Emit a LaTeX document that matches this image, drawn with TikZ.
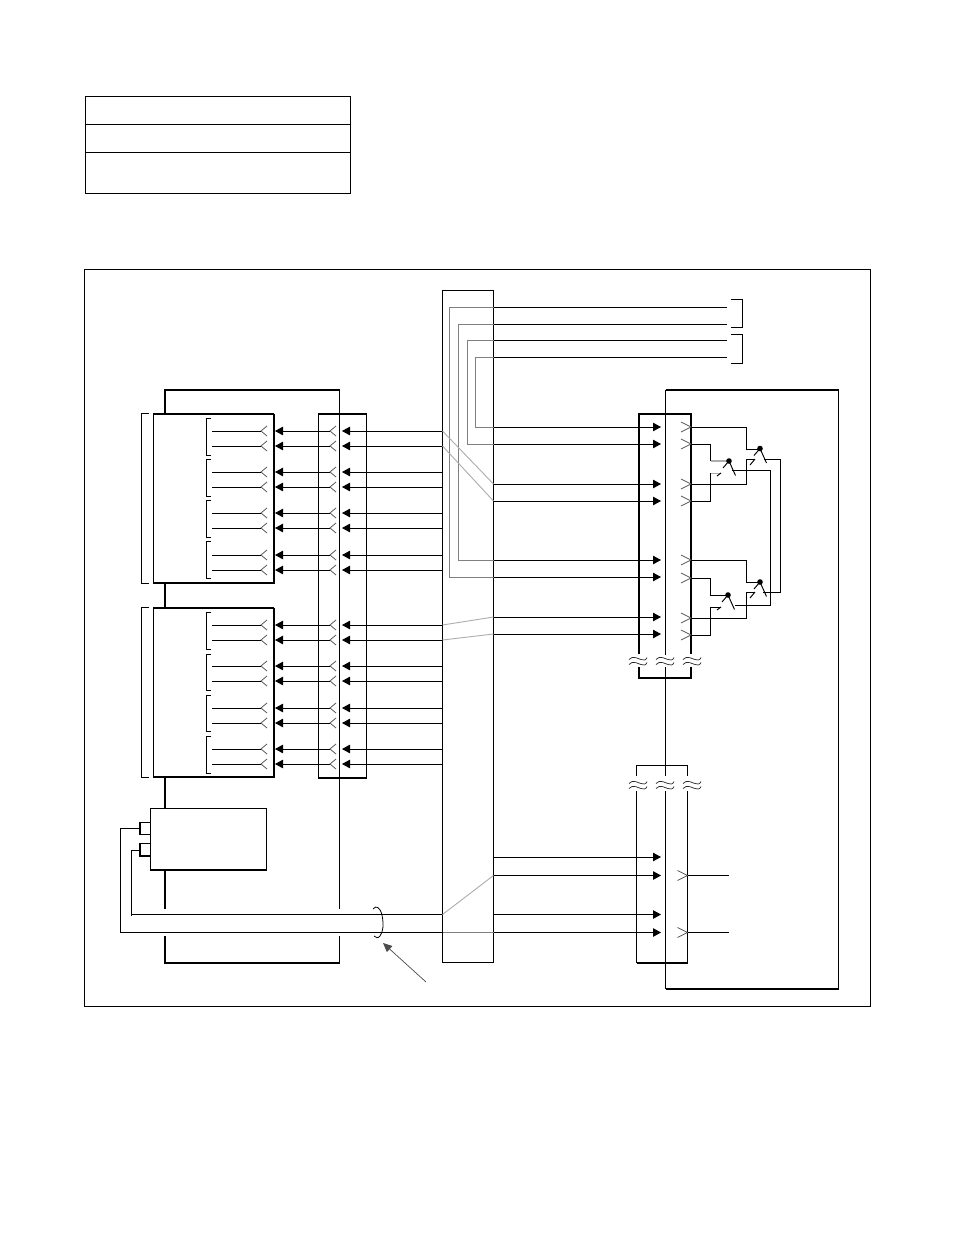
\documentclass[tikz,border=0pt]{standalone}
\usetikzlibrary{arrows.meta}
\definecolor{wiregray}{gray}{0.5}
\definecolor{slantgray}{gray}{0.68}
\definecolor{forkgray}{gray}{0.35}
\tikzset{
  x=1pt,y=-1pt,
  wire/.style={line width=0.95pt,black},
  thickline/.style={line width=2pt,black},
  grayline/.style={line width=0.95pt,wiregray},
  slantline/.style={line width=0.9pt,slantgray},
  sig/.style={wire,-{Triangle[length=8pt,width=8.5pt]},shorten >=0pt},
  boxshape/.style={draw,line width=0.95pt,rectangle,inner sep=0pt,outer sep=0pt,fill=white},
  forkline/.style={line width=0.8pt,forkgray},
  wavy/.style={line width=0.7pt,black!85},
}
% named rectangle from corner to corner
\newcommand{\boxat}[6][]{%
  \pgfmathsetmacro{\bw}{#5-#3}\pgfmathsetmacro{\bh}{#6-#4}%
  \node[boxshape,minimum width=\bw pt,minimum height=\bh pt,#1] (#2) at ({(#3+#5)/2},{(#4+#6)/2}) {};}
% fork opening to the right (apex x, y)
\newcommand{\forkL}[2]{\draw[forkline] (#1+6,#2-5) -- (#1,#2) -- (#1+6,#2+5);}
% fork opening to the left
\newcommand{\forkR}[2]{\draw[forkline] (#1-10,#2-5) -- (#1,#2) -- (#1-10,#2+5);}
\newcommand{\wiggle}[2]{%
  \draw[wavy] (#1-9,#2-1) .. controls (#1-5,#2-6) and (#1+1,#2-1) .. (#1+3,#2-1) .. controls (#1+5,#2) and (#1+8,#2) .. (#1+9,#2-3);
  \draw[wavy] (#1-9,#2+4) .. controls (#1-5,#2-1) and (#1+1,#2+4) .. (#1+3,#2+4) .. controls (#1+5,#2+5) and (#1+8,#2+5) .. (#1+9,#2+2);}
\newcommand{\bracketL}[4]{\draw[wire] (#1+#4,#2) -- (#1,#2) -- (#1,#3) -- (#1+#4,#3);}
\begin{document}
\begin{tikzpicture}
\useasboundingbox[fill=white] (0,0) rectangle (954,1235);
% table
\boxat{tablebox}{85}{96}{350.5}{193}
\draw[wire] (85,124) -- (350.5,124) (85,152) -- (350.5,152);
% frame
\boxat{frame}{84.5}{269.5}{870.5}{1006.5}
% central panel
\boxat[fill=none]{panel}{442.5}{290.5}{493.5}{962.5}
% left cabinet
\draw[thickline] (165,414) -- (165,390) -- (339.5,390);
\draw[thickline] (165,583) -- (165,608) (165,778) -- (165,808) (165,870) -- (165,908.5);
\draw[thickline] (165,936) -- (165,963) -- (339.5,963);
\draw[wire] (339.5,390) -- (339.5,908.5) (339.5,936) -- (339.5,963);
% right cabinet
\draw[wire] (665.5,390) -- (665.5,655) (665.5,667) -- (665.5,776) (665.5,791) -- (665.5,989);
\draw[thickline] (665.5,390) -- (838.5,390);
\draw[thickline] (665.5,989) -- (838.5,989);
\draw[line width=1.2pt] (838.5,390) -- (838.5,989);
% left shelves
\boxat{shelfA}{153.5}{414}{274}{583}
\boxat{shelfB}{153.5}{608}{274}{777}
\draw[thickline] (274,414) -- (274,583) (274,608) -- (274,777) (153,777) -- (274,777) (153,583) -- (274,583);
\draw[line width=1.3pt] (153,414) -- (274,414) (153,608) -- (274,608);
\bracketL{141}{413}{583}{8}
\bracketL{141}{607}{777}{8}
% inner brackets
\bracketL{206}{418}{455}{5}
\bracketL{206}{459}{496}{5}
\bracketL{206}{500}{537}{5}
\bracketL{206}{541}{578}{5}
\bracketL{206}{612}{649}{5}
\bracketL{206}{654}{690}{5}
\bracketL{206}{695}{731}{5}
\bracketL{206}{736}{773}{5}
% connector block
\boxat[fill=none]{mdfblock}{318}{414}{366.5}{778}
\draw[line width=1.3pt] (318,414) -- (366.5,414) (318,778) -- (366.5,778);
\draw[wire] (339.5,414) -- (339.5,778);
% left signal paths
\foreach \yy in {431,446,472,487,513,528,555,570,625,640,666,681,708,723,749,764}{
  \coordinate (pL) at (panel.west |- 0,\yy);
  \draw[sig] (pL) -- (342,\yy);
  \forkL{330}{\yy}
  \draw[sig] (330,\yy) -- (275,\yy);
  \forkL{261}{\yy}
  \draw[wire] (261,\yy) -- (212,\yy);
}
% unit C
\boxat{unitC}{150.5}{808.5}{266.5}{870}
\draw[line width=1.6pt] (150.5,870) -- (266.5,870);
\coordinate (jackU) at (140,828.5);
\coordinate (jackL) at (140,850);
\draw[line width=1pt] (150,822.5) -- (140,822.5) (140,834) -- (150,834);
\draw[line width=1.8pt] (140,821.8) -- (140,834.7);
\draw[line width=1.9pt] (150,843.5) -- (140,843.5) -- (140,856) -- (150,856);
\draw[wire] (jackU) -- (120.5,828.5) -- (120.5,932.5) -- (panel.west |- 0,932.5);
\draw[wire] (jackL) -- (131.5,850) -- (131.5,914.5) -- (panel.west |- 0,914.5);
\draw[wire] (131.5,914) -- (131.5,916);
% cable mark
\coordinate (cabA) at (373,909);
\coordinate (cabB) at (374,936);
\draw[line width=0.8pt] (cabA) .. controls (376,905) and (380,907) .. (382,915) .. controls (384,925) and (383,932) .. (380,936) .. controls (378,938.5) and (376,938) .. (cabB);
\coordinate (ptrTail) at (426,982);
\coordinate (ptrTip) at (383,943);
\draw[line width=0.7pt,black!70,-{Triangle[length=9pt,width=8pt]}] (ptrTail) -- (ptrTip);
% leads at top
\foreach \yy/\xx in {307/449,324/458,340/467,357/475}{
  \draw[wire] (panel.east |- 0,\yy) -- (727,\yy);
}
\draw[wire] (731,299) -- (742,299) -- (742,327) -- (731,327);
\draw[wire] (731,334) -- (742,334) -- (742,363) -- (731,363);
% gray runs inside the panel
\draw[grayline] (493.5,307) -- (449.5,307) -- (449.5,577) -- (493.5,577);
\draw[grayline] (493.5,324) -- (458.5,324) -- (458.5,560) -- (493.5,560);
\draw[grayline] (493.5,340) -- (467.5,340) -- (467.5,444) -- (493.5,444);
\draw[grayline] (493.5,357) -- (475.5,357) -- (475.5,427) -- (493.5,427);
\draw[slantline] (442.5,431) -- (493.5,484);
\draw[slantline] (442.5,446) -- (493.5,501);
\draw[slantline] (442.5,625) -- (493.5,617);
\draw[slantline] (442.5,640) -- (493.5,634);
\draw[slantline] (442.5,914.5) -- (493.5,875.5);
\draw[grayline] (442.5,932.5) -- (493.5,932.5);
% right upper block
\draw[thickline] (639,654) -- (639,414) -- (691,414) -- (691,654);
\draw[thickline] (639,667) -- (639,678) -- (691,678) -- (691,667);
\wiggle{638}{660.5}
\wiggle{665}{660.5}
\wiggle{692}{660.5}
% right lower block
\draw[wire] (636.5,776) -- (636.5,765) -- (687.5,765) -- (687.5,776);
\draw[wire] (636.5,791) -- (636.5,963) (687.5,791) -- (687.5,963);
\draw[thickline] (636.5,963) -- (687.5,963);
\wiggle{638}{784.5}
\wiggle{665}{784.5}
\wiggle{692}{784.5}
% arrows into the right blocks
\foreach \yy in {427,444,484,501,560,577,617,634,857,875.5,914.5,932.5}{
  \coordinate (pR) at (panel.east |- 0,\yy);
  \draw[sig] (pR) -- (661,\yy);
}
\foreach \yy in {427,444,484,501,560,578,618,635}{\forkR{691}{\yy}}
% lower outlets
\foreach \yy in {875.5,932.5}{
  \forkR{687.5}{\yy}
  \draw[wire] (687.5,\yy) -- (729,\yy);
}
% switch wiring, upper
\draw[wire] (691,427) -- (746.5,427) -- (746.5,449) -- (760,449);
\draw[wire] (691,484.5) -- (746.5,484.5) -- (746.5,459) -- (755,459);
\draw[wire] (691,444) -- (710.5,444) -- (710.5,461);
\draw[line width=1.4pt,slantgray] (710.5,461) -- (729,461);
\draw[wire] (691,501) -- (710.5,501) -- (710.5,473);
\draw[slantline] (710.5,473) -- (721,473);
\draw[wire] (721,473) -- (717,476);
\draw[wire] (755,459) -- (750,465);
% switch wiring, lower
\draw[wire] (691,560) -- (746.5,560) -- (746.5,582) -- (760,582);
\draw[wire] (691,618) -- (746.5,618) -- (746.5,592) -- (755,592);
\draw[wire] (691,578) -- (710.5,578) -- (710.5,595) -- (728,595);
\draw[wire] (691,635) -- (710.5,635) -- (710.5,607) -- (721,607);
\draw[wire] (721,607) -- (717,610);
\draw[wire] (755,592) -- (750,598);
% switch bodies
\foreach \sx/\sy in {760/448.5,729/461,760/582,728/595}{
  \fill (\sx,\sy) circle (2.8);
  \draw[wire] (\sx,\sy) -- (\sx+6.5,\sy+14.5);
  \draw[wire] (\sx,\sy) -- (\sx-6,\sy+7);
}
% cross links between switches
\draw[wire] (764,459) -- (780.5,459) -- (780.5,592) -- (763,592);
\draw[wire] (732,470.5) -- (770.5,470.5) -- (770.5,605) -- (735,605);
\end{tikzpicture}
\end{document}
